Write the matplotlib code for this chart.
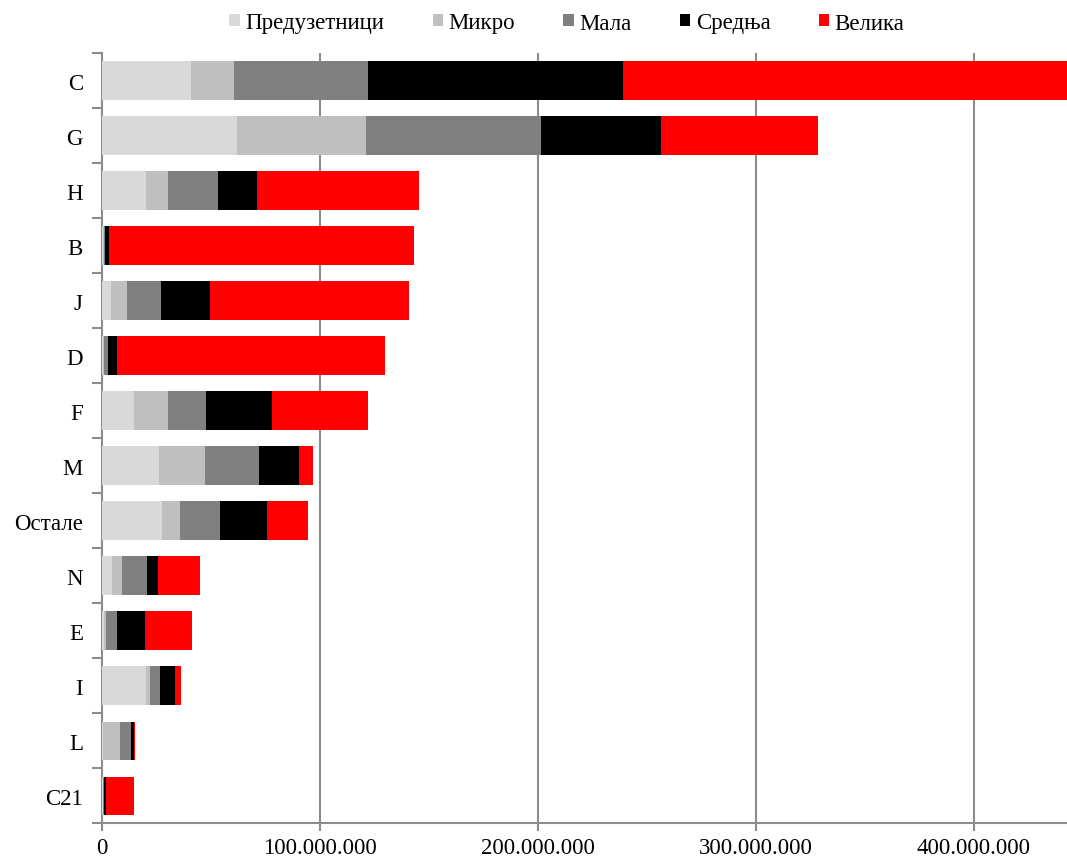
import numpy as np
import matplotlib
matplotlib.use("Agg")
import matplotlib.pyplot as plt
from matplotlib.ticker import FuncFormatter, FixedLocator

plt.rcParams['font.family'] = ['Liberation Serif', 'DejaVu Serif']

# categories, top to bottom
categories = ["C", "G", "H", "B", "J", "D", "F", "M", "Остале", "N", "E", "I", "L", "C21"]
series_names = ["Предузетници", "Микро", "Мала", "Средња", "Велика"]

# values in millions
preduzetnici = [40.6, 61.7, 20.1, 0.5, 4.0, 0.3, 14.5, 26.0, 27.5, 4.5, 0.9, 20.1, 0.3, 0.1]
mikro        = [19.8, 59.3, 10.0, 0.4, 7.3, 0.3, 15.6, 21.2, 8.0, 4.7, 0.9, 1.8, 7.7, 0.2]
mala         = [61.6, 80.3, 22.8, 0.5, 15.6, 2.2, 17.4, 24.5, 18.6, 11.5, 4.8, 4.4, 5.0, 0.5]
srednja      = [117.0, 55.0, 17.9, 1.8, 22.6, 4.0, 30.4, 18.6, 21.4, 4.9, 12.8, 7.2, 1.7, 0.9]
velika       = [204.0, 72.2, 74.6, 140.0, 91.3, 123.0, 44.1, 6.4, 18.8, 19.3, 21.8, 2.8, 0.1, 12.7]

colors = ["#d9d9d9", "#bfbfbf", "#808080", "#000000", "#ff0000"]
grid_col = "#8c8c8c"

fig = plt.figure(figsize=(10.67, 8.62), dpi=100)
ax = fig.add_axes([102.3 / 1067, 1 - 824.3 / 862, 1 - 102.3 / 1067, (824.3 - 54) / 862])

y = np.arange(len(categories))
left = np.zeros(len(categories))
for name, vals, col in zip(series_names, [preduzetnici, mikro, mala, srednja, velika], colors):
    v = np.array(vals) * 1e6
    ax.barh(y, v, left=left, height=0.70, color=col, label=name, linewidth=0, zorder=3)
    left += v

ax.set_xlim(0, 442.7e6)
ax.set_ylim(len(categories) - 0.5, -0.5)

# x axis
ax.set_xticks([0, 100e6, 200e6, 300e6, 400e6])
ax.xaxis.set_major_formatter(FuncFormatter(lambda v, p: f"{int(round(v)):,}".replace(",", ".")))
ax.tick_params(axis="x", length=6, width=1.5, color=grid_col, labelsize=16.5, pad=4)
for xv in [100e6, 200e6, 300e6, 400e6]:
    ax.axvline(xv, color=grid_col, linewidth=1.5, zorder=1)

# y axis
ax.set_yticks(y)
ax.set_yticklabels(categories)
ax.tick_params(axis="y", length=0, labelsize=16.5, pad=14)
ax.yaxis.set_minor_locator(FixedLocator(np.arange(len(categories) + 1) - 0.5))
ax.tick_params(axis="y", which="minor", length=7, width=1.5, color=grid_col)

for s in ["top", "right"]:
    ax.spines[s].set_visible(False)
for s in ["left", "bottom"]:
    ax.spines[s].set_color(grid_col)
    ax.spines[s].set_linewidth(1.5)

fig.legend(loc="center", bbox_to_anchor=(567 / 1067, 1 - 24 / 862), ncol=5, frameon=False,
           fontsize=16.5, handlelength=0.45, handleheight=0.45, handletextpad=0.25,
           columnspacing=2.1)

fig.savefig("out.png", dpi=100)
